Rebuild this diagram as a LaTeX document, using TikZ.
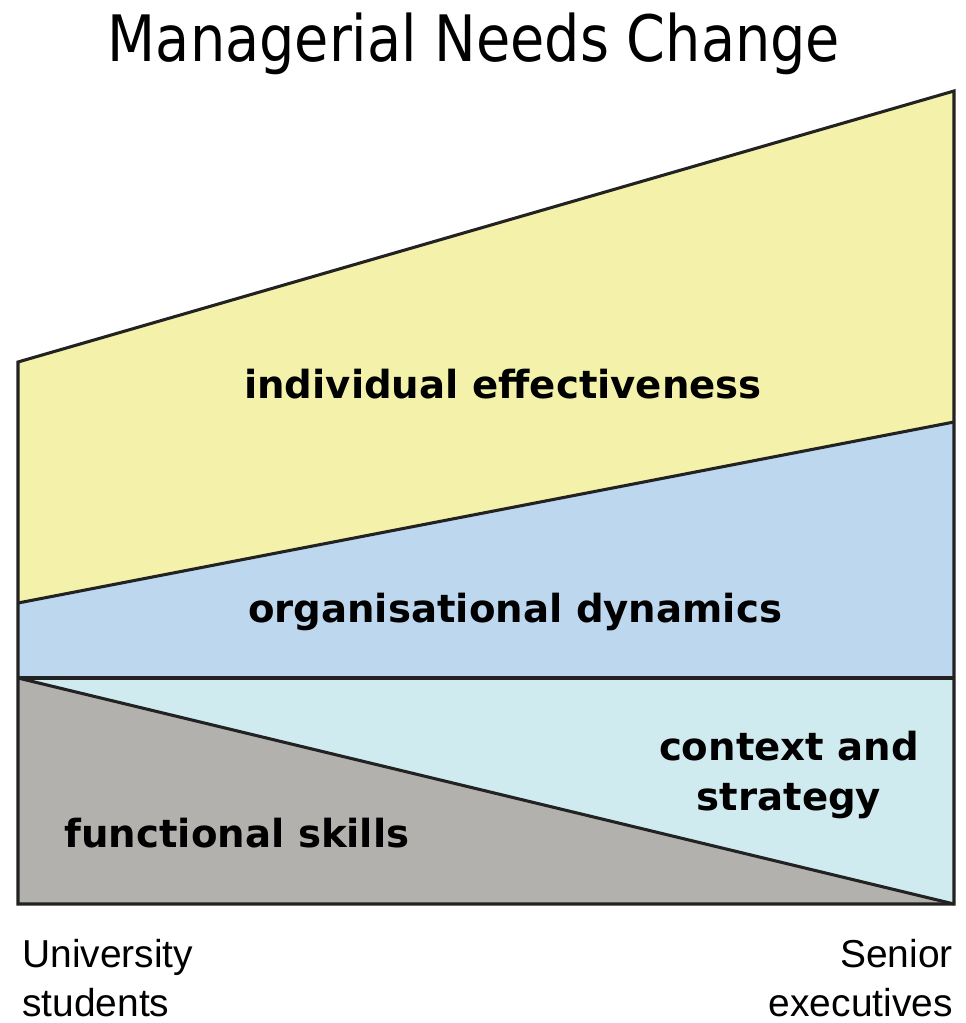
\documentclass[tikz,border=0pt]{standalone}
\usepackage{fontspec}
\setmainfont{DejaVu Sans}
\newfontfamily\arialfont{Liberation Sans}
\definecolor{cyellow}{HTML}{F4F2AA}
\definecolor{cblue}{HTML}{BDD7EE}
\definecolor{ccyan}{HTML}{D0EBF0}
\definecolor{cgray}{HTML}{B3B1AE}
\definecolor{cline}{HTML}{222222}
\begin{document}
\begin{tikzpicture}[x=0.75pt,y=-0.75pt,
  band/.style={draw=cline,line width=2.3pt,line join=miter},
  lbl/.style={font=\fontsize{29}{34}\selectfont\bfseries,anchor=base,inner sep=0pt},
  axis/.style={font=\arialfont\fontsize{29.2}{36}\selectfont,inner sep=0pt}]
\useasboundingbox (0,0) rectangle (965,1023);
\coordinate (tl) at (18,362);
\coordinate (tr) at (954,91);
\coordinate (ml) at (18,603);
\coordinate (mr) at (954,422);
\coordinate (hl) at (18,678);
\coordinate (hr) at (954,678);
\coordinate (bl) at (18,904);
\coordinate (br) at (954,904);
\fill[cyellow] (tl) -- (tr) -- (mr) -- (ml) -- cycle;
\fill[cblue] (ml) -- (mr) -- (hr) -- (hl) -- cycle;
\fill[ccyan] (hl) -- (hr) -- (br) -- cycle;
\fill[cgray] (hl) -- (br) -- (bl) -- cycle;
\draw[band] (ml) -- (mr);
\draw[band] (hl) -- (hr);
\draw[band] (hl) -- (br);
\draw[band] (tl) -- (tr) -- (br) -- (bl) -- cycle;
\node[font=\fontsize{48}{56}\selectfont,anchor=base,inner sep=0pt] (title) at (474,62) {\scalebox{0.87}[1]{Managerial Needs Change}};
\node[lbl] (ie) at (503,398) {individual effectiveness};
\node[lbl] (od) at (515,622) {organisational dynamics};
\node[lbl] (cs1) at (789,760) {context and};
\node[lbl] (cs2) at (789,810) {strategy};
\node[lbl] (fs) at (237,847) {functional skills};
\node[axis,anchor=base west] (us1) at (22,967) {University};
\node[axis,anchor=base west] (us2) at (22,1016) {students};
\node[axis,anchor=base east] (se1) at (953,967) {Senior};
\node[axis,anchor=base east] (se2) at (953,1016) {executives};
\end{tikzpicture}
\end{document}
